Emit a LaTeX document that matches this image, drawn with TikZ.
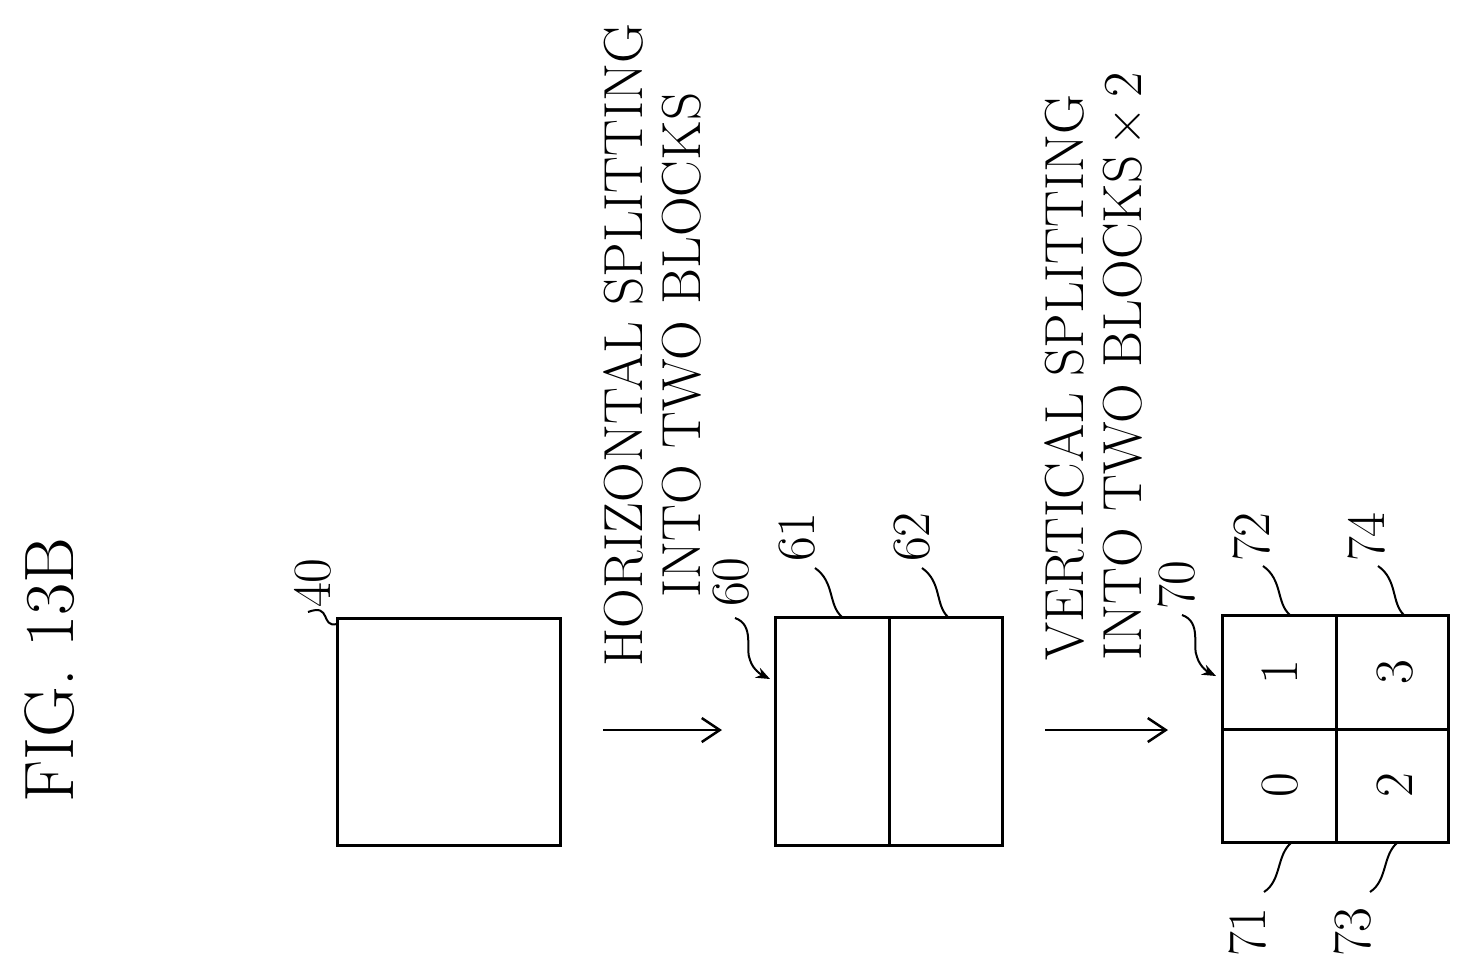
\documentclass[tikz,border=0pt]{standalone}
\usetikzlibrary{arrows.meta}
\begin{document}
\begin{tikzpicture}[x=1pt,y=-1pt,line width=3pt,
  lbl/.style={rotate=90,font=\fontsize{54}{60}\selectfont,inner sep=0pt},
  lead/.style={line width=2pt},
  bigarrow/.style={line width=2.5pt,-{Straight Barb[length=18pt,width=24pt,line width=2.5pt]}}]
\useasboundingbox (0,0) rectangle (1472,978);
\node[rotate=90,font=\fontsize{70}{80}\selectfont] (fig) at (50,670) {FIG. 13B};
% box 40
\draw (337,618) rectangle (560,845);
\node[lbl] (l40) at (313,583) {40};
\draw[lead] (308,612) .. controls (332,603) and (320,628) .. (337,624);
% arrow 1
\coordinate (a1s) at (603,730); \coordinate (a1e) at (722,730);
\draw[bigarrow] (a1s) -- (a1e);
\node[rotate=90,align=center,font=\fontsize{55}{58}\selectfont] (t1) at (652,345) {HORIZONTAL SPLITTING\\INTO TWO BLOCKS};
% box 60
\draw (775,617) rectangle (1002,845);
\draw (889,617) -- (889,845);
\node[lbl] (l60) at (731,582) {60};
\node[lbl] (l61) at (797,537) {61};
\node[lbl] (l62) at (912,537) {62};
\draw[lead,-{Stealth[length=14pt,width=11pt]}] (735,618) .. controls (755,625) and (745,650) .. (750,660) .. controls (753,670) and (762,675) .. (770,679);
\draw[lead] (815,568) .. controls (835,582) and (828,605) .. (842,617);
\draw[lead] (922,568) .. controls (942,582) and (935,605) .. (948,617);
% arrow 2
\coordinate (a2s) at (1045,730); \coordinate (a2e) at (1168,730);
\draw[bigarrow] (a2s) -- (a2e);
\node[rotate=90,align=left,anchor=west,font=\fontsize{55}{58}\selectfont] (t2) at (1093,665) {VERTICAL SPLITTING\\INTO TWO BLOCKS\,×\,2};
% box 70
\draw (1222,615) rectangle (1448,842);
\draw (1336,615) -- (1336,842);
\draw (1222,729) -- (1448,729);
\node[lbl] (c1) at (1280,672) {1};
\node[lbl] (c3) at (1395,672) {3};
\node[lbl] (c0) at (1280,785) {0};
\node[lbl] (c2) at (1395,785) {2};
\node[lbl] (l70) at (1177,585) {70};
\node[lbl] (l72) at (1252,537) {72};
\node[lbl] (l74) at (1367,537) {74};
\node[lbl] (l71) at (1248,932) {71};
\node[lbl] (l73) at (1353,932) {73};
\draw[lead,-{Stealth[length=14pt,width=11pt]}] (1182,615) .. controls (1202,622) and (1192,647) .. (1197,657) .. controls (1200,667) and (1208,672) .. (1216,676);
\draw[lead] (1263,566) .. controls (1283,580) and (1276,603) .. (1290,615);
\draw[lead] (1378,566) .. controls (1398,580) and (1391,603) .. (1404,615);
\draw[lead] (1264,892) .. controls (1282,880) and (1276,855) .. (1292,842);
\draw[lead] (1370,892) .. controls (1388,880) and (1382,855) .. (1398,842);
\end{tikzpicture}
\end{document}
